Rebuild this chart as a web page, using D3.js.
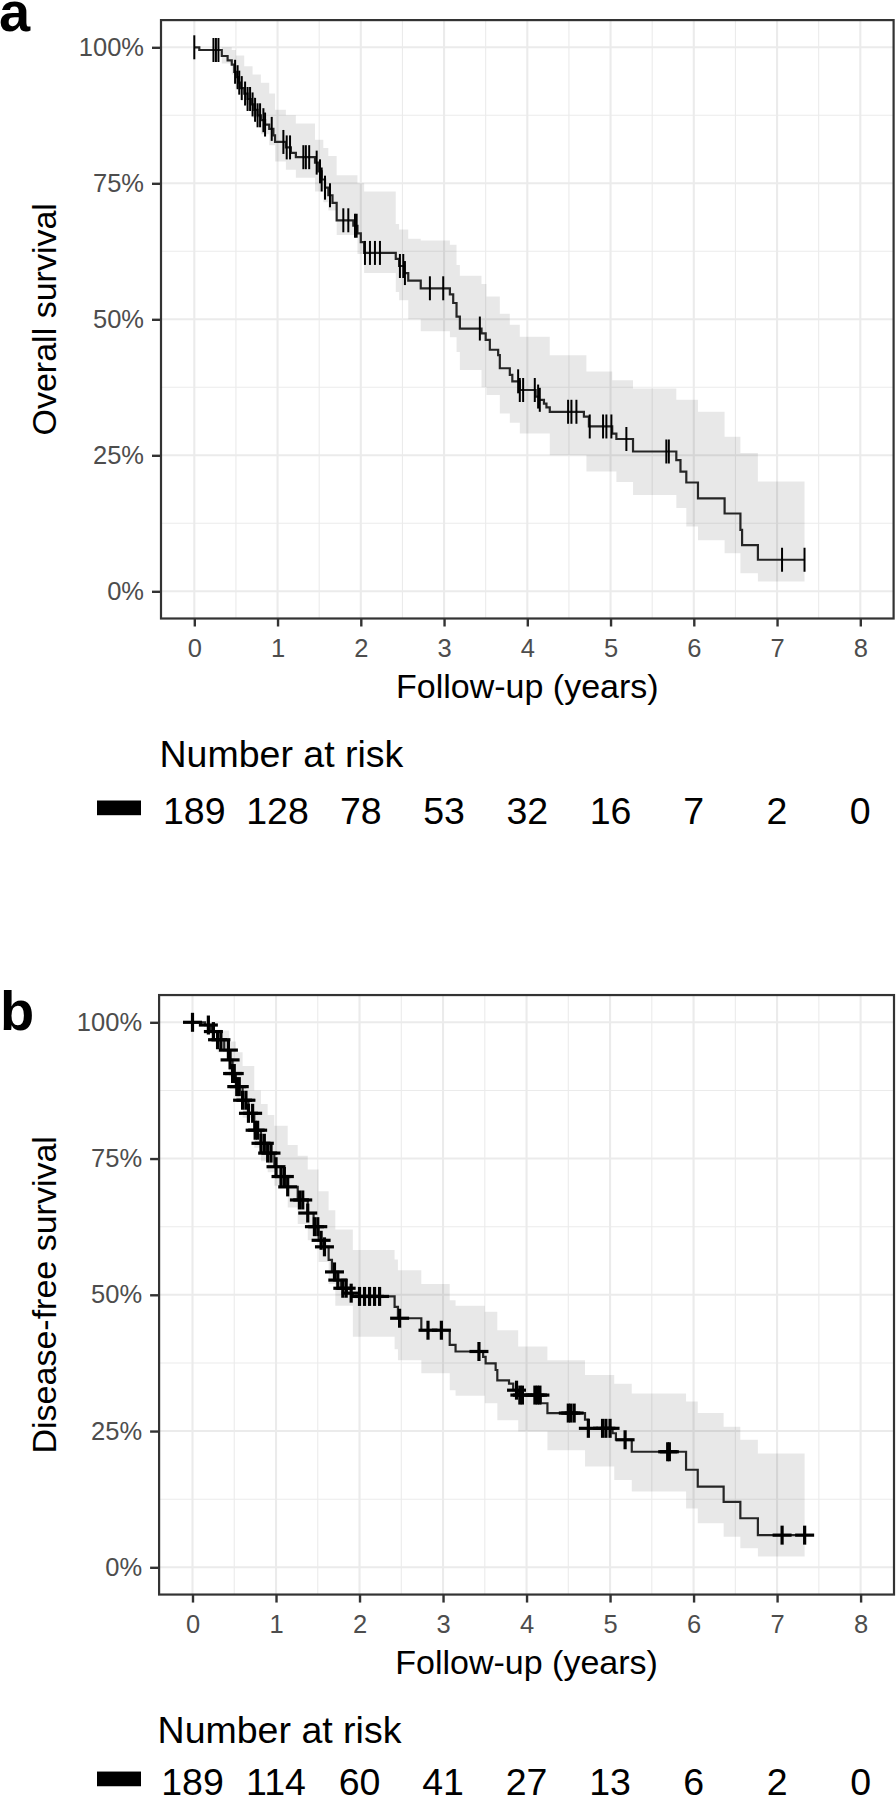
<!DOCTYPE html>
<html><head><meta charset="utf-8">
<script src="https://cdn.jsdelivr.net/npm/d3@7"></script>
<style>body{margin:0;background:#fff}svg{display:block}text{font-family:"Liberation Sans",Arial,sans-serif}</style>
</head><body>
<svg id="chart" width="896" height="1803"></svg>
<script>
// ---------- DATA ----------
const xTicks = [0,1,2,3,4,5,6,7,8];
const yTicks = [0,0.25,0.5,0.75,1];
const yTickLabels = ["0%","25%","50%","75%","100%"];
const riskTimes = [0,1,2,3,4,5,6,7,8];

// Panel a: overall survival (step after each time)
const timeA = [0,0.06,0.33,0.40,0.45,0.48,0.50,0.53,0.56,0.60,0.64,0.68,0.72,0.76,0.80,0.85,0.90,0.95,0.97,1.10,1.16,1.22,1.45,1.49,1.53,1.57,1.61,1.66,1.71,1.91,1.96,2.00,2.04,2.42,2.46,2.52,2.57,2.72,3.07,3.11,3.15,3.19,3.45,3.50,3.55,3.65,3.67,3.79,3.82,3.91,4.10,4.14,4.20,4.23,4.27,4.68,4.74,5.02,5.07,5.27,5.79,5.84,5.91,6.05,6.37,6.56,6.58,6.77];
const survA = [1,0.995,0.984,0.976,0.968,0.955,0.945,0.935,0.925,0.915,0.905,0.895,0.885,0.875,0.866,0.858,0.850,0.838,0.826,0.816,0.806,0.798,0.788,0.772,0.757,0.742,0.728,0.714,0.682,0.672,0.658,0.642,0.622,0.611,0.598,0.585,0.571,0.557,0.546,0.530,0.505,0.483,0.474,0.462,0.444,0.434,0.410,0.398,0.386,0.370,0.358,0.352,0.345,0.338,0.330,0.321,0.303,0.290,0.280,0.257,0.241,0.220,0.200,0.171,0.143,0.113,0.085,0.058];
const endA = 7.33;
const censorA = [0,0.23,0.26,0.29,0.49,0.52,0.54,0.57,0.61,0.64,0.67,0.70,0.73,0.76,0.79,0.83,0.85,0.93,1.07,1.11,1.15,1.31,1.34,1.38,1.47,1.51,1.53,1.57,1.63,1.79,1.85,1.93,1.95,2.05,2.11,2.17,2.23,2.47,2.51,2.53,2.83,2.99,3.43,3.89,3.91,3.95,4.09,4.13,4.15,4.49,4.53,4.59,4.75,4.91,4.95,5.01,5.19,5.67,5.70,7.06,7.33];
const bandTimeA = [0,0.33,0.45,0.5,0.6,0.7,0.8,0.9,0.97,1.1,1.22,1.45,1.55,1.61,1.71,1.96,2.04,2.42,2.46,2.57,2.72,3.07,3.15,3.19,3.45,3.51,3.67,3.79,3.91,4.27,4.71,5.02,5.07,5.27,5.79,5.91,6.05,6.37,6.56,6.77];
const upperA = [1,1,0.995,0.985,0.965,0.95,0.935,0.915,0.885,0.875,0.86,0.83,0.815,0.80,0.765,0.75,0.735,0.675,0.665,0.648,0.645,0.637,0.60,0.58,0.565,0.542,0.51,0.49,0.468,0.434,0.404,0.388,0.388,0.373,0.352,0.352,0.33,0.284,0.254,0.202];
const lowerA = [1,0.97,0.95,0.925,0.895,0.87,0.84,0.82,0.79,0.775,0.76,0.735,0.715,0.70,0.655,0.62,0.585,0.55,0.535,0.50,0.478,0.467,0.44,0.407,0.375,0.361,0.327,0.31,0.29,0.25,0.22,0.22,0.201,0.177,0.153,0.119,0.094,0.07,0.033,0.018];
const riskA = [189,128,78,53,32,16,7,2,0];

// Panel b: disease-free survival
const timeB = [0,0.15,0.22,0.30,0.38,0.44,0.48,0.52,0.60,0.67,0.74,0.82,0.90,0.98,1.06,1.14,1.26,1.38,1.45,1.51,1.57,1.63,1.67,1.71,1.78,1.85,1.92,2.42,2.46,2.74,3.08,3.15,3.48,3.51,3.63,3.65,3.79,3.84,3.90,4.17,4.25,4.70,4.74,5.03,5.07,5.26,5.91,6.05,6.36,6.56,6.77];
const survB = [1,0.995,0.983,0.968,0.949,0.931,0.906,0.882,0.857,0.833,0.802,0.778,0.760,0.735,0.717,0.698,0.674,0.650,0.625,0.600,0.588,0.564,0.542,0.527,0.512,0.503,0.497,0.478,0.457,0.435,0.408,0.396,0.386,0.374,0.362,0.343,0.337,0.325,0.316,0.301,0.283,0.271,0.255,0.246,0.234,0.212,0.179,0.148,0.120,0.090,0.059];
const endB = 7.33;
const censorB = [0,0.19,0.25,0.30,0.34,0.43,0.45,0.48,0.50,0.53,0.56,0.60,0.64,0.67,0.72,0.75,0.78,0.82,0.86,0.90,0.94,1.00,1.06,1.10,1.14,1.28,1.32,1.38,1.46,1.50,1.54,1.58,1.70,1.74,1.80,1.84,1.90,2.00,2.06,2.12,2.18,2.24,2.48,2.82,2.98,3.43,3.88,3.92,3.95,4.10,4.13,4.16,4.50,4.53,4.57,4.74,4.91,4.95,5.00,5.18,5.69,5.71,7.06,7.33];
const bandTimeB = [0,0.3,0.44,0.52,0.6,0.74,0.82,0.9,0.98,1.14,1.26,1.38,1.51,1.63,1.71,1.92,2.42,2.46,2.74,3.08,3.15,3.5,3.65,3.9,4.25,4.7,5.05,5.26,5.91,6.05,6.36,6.56,6.77];
const upperB = [1,0.985,0.965,0.945,0.92,0.875,0.85,0.83,0.81,0.775,0.755,0.73,0.69,0.655,0.62,0.582,0.565,0.545,0.52,0.49,0.48,0.469,0.435,0.405,0.38,0.353,0.337,0.319,0.304,0.283,0.258,0.234,0.209];
const lowerB = [1,0.945,0.90,0.86,0.825,0.77,0.745,0.725,0.70,0.66,0.63,0.60,0.56,0.52,0.48,0.423,0.40,0.38,0.356,0.325,0.315,0.301,0.27,0.249,0.215,0.185,0.16,0.139,0.108,0.081,0.056,0.035,0.02];
const riskB = [189,114,60,41,27,13,6,2,0];

// ---------- DRAW ----------
const svg = d3.select("#chart");
const FONT = '"Liberation Sans",Arial,sans-serif';

function drawPanel(c) {
  const x = d3.scaleLinear().domain([0,8]).range([c.x0, c.x8]);
  const y = d3.scaleLinear().domain([0,1]).range([c.y0, c.y1]);
  const L = x(-0.4), R = x(8.4), T = y(1.05), B = y(-0.05);
  const g = svg.append("g");

  // minor grid
  const xMinor = d3.range(0.5, 8, 1), yMinor = [0.125,0.375,0.625,0.875];
  g.selectAll(null).data(xMinor).join("line")
    .attr("x1", d=>x(d)).attr("x2", d=>x(d)).attr("y1", T).attr("y2", B)
    .attr("stroke","#EBEBEB").attr("stroke-width",1.1);
  g.selectAll(null).data(yMinor).join("line")
    .attr("x1", L).attr("x2", R).attr("y1", d=>y(d)).attr("y2", d=>y(d))
    .attr("stroke","#EBEBEB").attr("stroke-width",1.1);
  // major grid
  g.selectAll(null).data(xTicks).join("line")
    .attr("x1", d=>x(d)).attr("x2", d=>x(d)).attr("y1", T).attr("y2", B)
    .attr("stroke","#EBEBEB").attr("stroke-width",2.1);
  g.selectAll(null).data(yTicks).join("line")
    .attr("x1", L).attr("x2", R).attr("y1", d=>y(d)).attr("y2", d=>y(d))
    .attr("stroke","#EBEBEB").attr("stroke-width",2.1);

  // confidence band
  const bandPts = c.bandTime.map((t,i)=>({t, u:c.upper[i], l:c.lower[i]}));
  bandPts.push({t:c.end, u:c.upper[c.upper.length-1], l:c.lower[c.lower.length-1]});
  g.append("path").datum(bandPts)
    .attr("d", d3.area().curve(d3.curveStepAfter).x(d=>x(d.t)).y0(d=>y(d.l)).y1(d=>y(d.u)))
    .attr("fill","#000").attr("fill-opacity",0.09);

  // survival step line
  const pts = c.time.map((t,i)=>({t, s:c.surv[i]}));
  pts.push({t:c.end, s:c.surv[c.surv.length-1]});
  g.append("path").datum(pts)
    .attr("d", d3.line().curve(d3.curveStepAfter).x(d=>x(d.t)).y(d=>y(d.s)))
    .attr("fill","none").attr("stroke","#262626").attr("stroke-width",2.2);

  // censor marks
  const survAt = t => { let s = c.surv[0]; for (let i=0;i<c.time.length;i++){ if (c.time[i] <= t) s = c.surv[i]; } return s; };
  const cg = g.append("g");
  c.censor.forEach(t => {
    const cx = x(t), cy = y(survAt(t));
    cg.append("line").attr("x1",cx).attr("x2",cx).attr("y1",cy-c.mark).attr("y2",cy+c.mark)
      .attr("stroke","#000").attr("stroke-width",c.markW);
    if (c.plus) cg.append("line").attr("x1",cx-c.mark).attr("x2",cx+c.mark).attr("y1",cy).attr("y2",cy)
      .attr("stroke","#000").attr("stroke-width",c.markW);
  });

  // border
  g.append("rect").attr("x",L).attr("y",T).attr("width",R-L).attr("height",B-T)
    .attr("fill","none").attr("stroke","#333").attr("stroke-width",2.2);

  // axes
  const ax = g.append("g").attr("transform",`translate(0,${B})`)
    .call(d3.axisBottom(x).tickValues(xTicks).tickSize(8).tickPadding(12).tickFormat(d3.format("d")));
  const ay = g.append("g").attr("transform",`translate(${L},0)`)
    .call(d3.axisLeft(y).tickValues(yTicks).tickSize(9).tickPadding(8).tickFormat((d,i)=>yTickLabels[i]));
  [ax,ay].forEach(a => {
    a.select(".domain").remove();
    a.selectAll(".tick line").attr("stroke","#333").attr("stroke-width",2.4);
    a.selectAll(".tick text").attr("fill","#4D4D4D").attr("font-size",25.5).attr("font-family",FONT);
  });
  ax.selectAll(".tick text").attr("dy","0.71em");

  // titles
  g.append("text").attr("x",(L+R)/2).attr("y",B+79).attr("text-anchor","middle")
    .attr("font-size",34).attr("fill","#000").text("Follow-up (years)");
  g.append("text").attr("transform",`translate(56,${(T+B)/2}) rotate(-90)`).attr("text-anchor","middle")
    .attr("font-size",34).attr("fill","#000").text(c.ytitle);
  g.append("text").attr("x",c.lx).attr("y",c.ly).attr("font-size",56).attr("font-weight","bold")
    .attr("fill","#000").text(c.letter);

  // number at risk
  g.append("text").attr("x",L-1.5).attr("y",B+148).attr("font-size",37.5).attr("fill","#000").text("Number at risk");
  g.append("rect").attr("x",97).attr("y",B+c.riskDy-23.5).attr("width",44).attr("height",14.7).attr("fill","#000");
  g.selectAll(null).data(riskTimes).join("text")
    .attr("x", d=>x(d)).attr("y", B+c.riskDy).attr("text-anchor","middle")
    .attr("font-size",37.5).attr("fill","#000").text((d,i)=>c.risk[i]);
}

drawPanel({x0:194.3, x8:860.3, y1:47.3, y0:591.3, time:timeA, surv:survA, end:endA, censor:censorA,
  bandTime:bandTimeA, upper:upperA, lower:lowerA, risk:riskA, ytitle:"Overall survival",
  letter:"a", lx:-1, ly:31, mark:12, markW:2, plus:false, riskDy:205.5});
drawPanel({x0:192.5, x8:860.6, y1:1022.3, y0:1567.3, time:timeB, surv:survB, end:endB, censor:censorB,
  bandTime:bandTimeB, upper:upperB, lower:lowerB, risk:riskB, ytitle:"Disease-free survival",
  letter:"b", lx:0, ly:1030, mark:9.5, markW:3.2, plus:true, riskDy:200.5});
</script>
</body></html>
